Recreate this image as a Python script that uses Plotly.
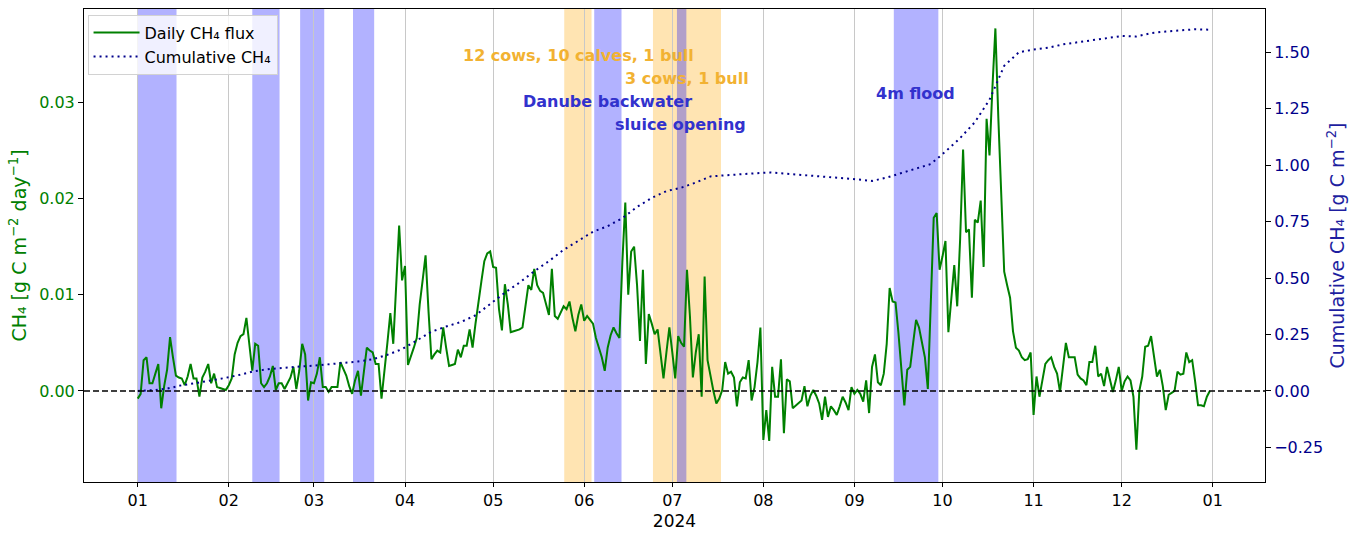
import plotly.graph_objects as go
import pandas as pd

# ---------------- data ----------------
flux_jan = [-0.0008, -0.0003, 0.0032, 0.0035, 0.0008, 0.0008, 0.0018, 0.0028, -0.0018, 0.0005,
            0.0022, 0.0056, 0.0035, 0.0016, 0.0014, 0.0013, 0.0006, 0.0015, 0.0028, 0.0013,
            0.0013, -0.0006, 0.0014, 0.0020, 0.0028, 0.0008, 0.0018, 0.0004, 0.0003, 0.0002, 0.0001]
flux_feb = [0.0006, 0.0013, 0.0038, 0.0050, 0.0057, 0.0059, 0.0076, 0.0049, 0.0021, 0.0049,
            0.0047, 0.0008, 0.0004, 0.0008, 0.0015, 0.0026, 0.0001, 0.0008, 0.0008, 0.0002,
            0.0008, 0.0014, 0.0025, 0.0002, 0.0021, 0.0049, 0.0038, -0.0010, 0.0009]
flux_mar = [0.0008, 0.0018, 0.0035, 0.0004, 0.0004, -0.0001, 0.0004, 0.0004, 0.0004, 0.0030,
            0.0022, 0.0016, 0.0005, -0.0003, 0.0011, 0.0021, -0.0005, 0.0021, 0.0045, 0.0042,
            0.0040, 0.0028, 0.0028, -0.0008, 0.0018, 0.0050, 0.0081, 0.0049, 0.0110, 0.0172, 0.0115]
flux_apr = [0.0130, 0.0027, 0.0035, 0.0045, 0.0055, 0.0090, 0.0115, 0.0141, 0.0083, 0.0033,
            0.0038, 0.0042, 0.0040, 0.0066, 0.0045, 0.0026, 0.0027, 0.0028, 0.0043, 0.0035,
            0.0047, 0.0047, 0.0064, 0.0045, 0.0070, 0.0095, 0.0114, 0.0135, 0.0143, 0.0145]
flux_may = [0.0129, 0.0128, 0.0085, 0.0063, 0.0111, 0.0090, 0.0061, 0.0062, 0.0063, 0.0064,
            0.0066, 0.0090, 0.0110, 0.0105, 0.0127, 0.0110, 0.0104, 0.0102, 0.0090, 0.0079,
            0.0127, 0.0078, 0.0075, 0.0082, 0.0088, 0.0085, 0.0093, 0.0076, 0.0062, 0.0079, 0.0090]
flux_jun = [0.0073, 0.0078, 0.0074, 0.0070, 0.0055, 0.0045, 0.0035, 0.0021, 0.0045, 0.0058,
            0.0066, 0.0060, 0.0055, 0.0134, 0.0196, 0.0100, 0.0145, 0.0150, 0.0110, 0.0052,
            0.0126, 0.0028, 0.0080, 0.0070, 0.0059, 0.0064, 0.0035, 0.0013, 0.0040, 0.0066]
flux_jul = [0.0040, 0.0013, 0.0057, 0.0050, 0.0046, 0.0126, 0.0078, 0.0014, 0.0040, 0.0059,
            -0.0006, 0.0119, 0.0032, 0.0015, 0.0000, -0.0013, -0.0008, 0.0001, 0.0030, 0.0018,
            0.0020, 0.0014, -0.0016, 0.0009, 0.0014, 0.0013, 0.0032, -0.0010, 0.0004, 0.0030, 0.0066]
flux_aug = [-0.0051, -0.0020, -0.0052, 0.0025, -0.0006, -0.0006, 0.0033, -0.0044, 0.0012, 0.0010,
            -0.0018, -0.0015, -0.0012, -0.0010, 0.0005, -0.0016, -0.0005, 0.0001, -0.0005, -0.0013,
            -0.0030, -0.0006, -0.0027, -0.0016, -0.0020, -0.0025, -0.0016, -0.0006, -0.0012, -0.0020, 0.0004]
flux_sep = [-0.0003, 0.0001, -0.0003, -0.0011, 0.0011, -0.0023, 0.0025, 0.0038, 0.0009, 0.0006,
            0.0018, 0.0049, 0.0107, 0.0093, 0.0092, 0.0060, 0.0020, -0.0015, 0.0022, 0.0025,
            0.0050, 0.0074, 0.0066, 0.0050, 0.0035, 0.0002, 0.0103, 0.0180, 0.0185, 0.0126]
flux_oct = [0.0140, 0.0156, 0.0061, 0.0100, 0.0131, 0.0088, 0.0158, 0.0251, 0.0165, 0.0168,
            0.0097, 0.0178, 0.0175, 0.0198, 0.0129, 0.0283, 0.0245, 0.0316, 0.0377, 0.0284,
            0.0213, 0.0124, 0.0110, 0.0097, 0.0062, 0.0045, 0.0042, 0.0035, 0.0032, 0.0033, 0.0040]
flux_nov = [-0.0025, 0.0015, -0.0006, 0.0011, 0.0028, 0.0032, 0.0035, 0.0025, 0.0018, -0.0001,
            0.0025, 0.0050, 0.0035, 0.0035, 0.0035, 0.0017, 0.0013, 0.0011, 0.0006, 0.0030,
            0.0030, 0.0047, 0.0015, 0.0018, 0.0005, 0.0025, 0.0013, -0.0001, 0.0011, 0.0025]
flux_dec = [0.0000, 0.0010, 0.0015, 0.0011, -0.0006, -0.0061, 0.0000, 0.0015, 0.0046, 0.0047,
            0.0057, 0.0035, 0.0015, 0.0022, 0.0005, -0.0020, -0.0004, -0.0002, 0.0000, 0.0020,
            0.0017, 0.0018, 0.0040, 0.0030, 0.0032, 0.0010, -0.0015, -0.0015, -0.0016, -0.0006, 0.0000]

month_starts = ["2024-01-01", "2024-02-01", "2024-03-01", "2024-04-01", "2024-05-01", "2024-06-01",
                "2024-07-01", "2024-08-01", "2024-09-01", "2024-10-01", "2024-11-01", "2024-12-01"]
monthly_flux = [flux_jan, flux_feb, flux_mar, flux_apr, flux_may, flux_jun,
                flux_jul, flux_aug, flux_sep, flux_oct, flux_nov, flux_dec]

# cumulative CH4 read every 5 days from 2024-01-01
cum_start = "2024-01-01"
cum_values = [0.000, 0.003, 0.010, 0.025, 0.035, 0.045, 0.058, 0.072, 0.088, 0.097,
              0.104, 0.108, 0.112, 0.118, 0.125, 0.130, 0.140, 0.160, 0.185, 0.225,
              0.262, 0.285, 0.305, 0.335, 0.385, 0.435, 0.480, 0.530, 0.575, 0.625,
              0.665, 0.705, 0.730, 0.765, 0.815, 0.855, 0.885, 0.900, 0.923, 0.950,
              0.955, 0.960, 0.965, 0.968, 0.963, 0.958, 0.955, 0.950, 0.945, 0.937,
              0.930, 0.945, 0.965, 0.985, 1.005, 1.060, 1.120, 1.190, 1.290, 1.440,
              1.500, 1.512, 1.520, 1.535, 1.545, 1.555, 1.565, 1.572, 1.570, 1.585,
              1.592, 1.597, 1.602, 1.600]

blue_spans = [("2024-01-01", "2024-01-14 05:00"), ("2024-02-09", "2024-02-18 07:00"),
              ("2024-02-25 07:00", "2024-03-04 12:00"), ("2024-03-14 07:00", "2024-03-21 12:00"),
              ("2024-06-04 10:00", "2024-06-13 17:00"), ("2024-07-02 14:00", "2024-07-05 19:00"),
              ("2024-09-14 10:00", "2024-09-29 14:00")]
orange_spans = [("2024-05-25 05:00", "2024-06-03 12:00"), ("2024-06-24 10:00", "2024-07-17 14:00")]

events_orange = [("12 cows, 10 calves, 1 bull", "2024-05-30 01:00", 0.9015),
                 ("3 cows, 1 bull", "2024-07-05 22:00", 0.8532)]
events_blue = [("Danube backwater", "2024-06-08 19:00", 0.805),
               ("sluice opening", "2024-07-03 17:00", 0.7568),
               ("4m flood", "2024-09-21 19:00", 0.8224)]

left_ticks = [0.0, 0.01, 0.02, 0.03]
left_ticktext = ["0.00", "0.01", "0.02", "0.03"]
right_ticks = [-0.25, 0.0, 0.25, 0.5, 0.75, 1.0, 1.25, 1.5]
right_ticktext = ["\u22120.25", "0.00", "0.25", "0.50", "0.75", "1.00", "1.25", "1.50"]

# ---------------- build ----------------
dates, flux = [], []
for start, vals in zip(month_starts, monthly_flux):
    dates += list(pd.date_range(start, periods=len(vals), freq="D"))
    flux += vals
cum_dates = list(pd.date_range(cum_start, periods=len(cum_values), freq="5D"))

FONT = "DejaVu Sans"
GREEN = "rgb(0,128,0)"
NAVY = "rgb(0,0,139)"

fig = go.Figure()
fig.add_trace(go.Scatter(x=dates, y=flux, mode="lines", name="Daily CH\u2084 flux",
                         line=dict(color=GREEN, width=2), yaxis="y"))
fig.add_trace(go.Scatter(x=cum_dates, y=cum_values, mode="lines", name="Cumulative CH\u2084",
                         line=dict(color=NAVY, width=2, dash="2px,4px"), yaxis="y2"))

shapes = []
for a, b in orange_spans:
    shapes.append(dict(type="rect", xref="x", yref="paper", x0=a, x1=b, y0=0, y1=1,
                       fillcolor="rgba(255,165,0,0.3)", line=dict(width=0), layer="below"))
for a, b in blue_spans:
    shapes.append(dict(type="rect", xref="x", yref="paper", x0=a, x1=b, y0=0, y1=1,
                       fillcolor="rgba(0,0,255,0.3)", line=dict(width=0), layer="below"))
shapes.append(dict(type="line", xref="paper", yref="y", x0=0, x1=1, y0=0, y1=0,
                   line=dict(color="black", width=1.5, dash="6px,3px")))

annotations = []
for txt, xd, yp in events_orange:
    annotations.append(dict(text="<b>%s</b>" % txt, x=xd, y=yp, xref="x", yref="paper",
                            showarrow=False, xanchor="center", yanchor="middle",
                            font=dict(family=FONT, size=16, color="rgb(242,178,50)")))
for txt, xd, yp in events_blue:
    annotations.append(dict(text="<b>%s</b>" % txt, x=xd, y=yp, xref="x", yref="paper",
                            showarrow=False, xanchor="center", yanchor="middle",
                            font=dict(family=FONT, size=16, color="rgb(50,50,205)")))

fig.update_layout(
    width=1365, height=535,
    margin=dict(l=84, r=100, t=8, b=49),
    paper_bgcolor="white", plot_bgcolor="white",
    font=dict(family=FONT, size=16, color="black"),
    shapes=shapes, annotations=annotations,
    showlegend=True,
    legend=dict(x=0.003, y=0.988, xanchor="left", yanchor="top", itemwidth=46,
                bgcolor="rgba(255,255,255,0.8)", bordercolor="rgb(210,210,210)", borderwidth=1,
                font=dict(family=FONT, size=16, color="black"), tracegroupgap=0),
    xaxis=dict(type="date", range=["2023-12-13 17:00", "2025-01-18 19:00"],
               tick0="2024-01-01", dtick="M1", tickformat="%m",
               showgrid=True, gridcolor="rgb(200,200,200)", gridwidth=1,
               showline=True, linecolor="black", linewidth=1, mirror=True,
               ticks="outside", ticklen=4, tickcolor="black",
               tickfont=dict(family=FONT, size=16, color="black"),
               title=dict(text="2024", font=dict(family=FONT, size=17, color="black"), standoff=5),
               zeroline=False),
    yaxis=dict(range=[-0.00947, 0.03972], tickvals=left_ticks, ticktext=left_ticktext,
               showgrid=False, zeroline=False, showline=True, linecolor="black", linewidth=1,
               ticks="outside", ticklen=5, tickcolor="black",
               tickfont=dict(family=FONT, size=16, color=GREEN),
               title=dict(text="CH\u2084 [g C m<sup>\u22122</sup> day<sup>\u22121</sup>]",
                          font=dict(family=FONT, size=19, color=GREEN), standoff=7)),
    yaxis2=dict(range=[-0.4035, 1.6917], tickvals=right_ticks, ticktext=right_ticktext,
                overlaying="y", side="right", anchor="x",
                showgrid=False, zeroline=False, showline=True, linecolor="black", linewidth=1,
                ticks="outside", ticklen=5, tickcolor="black",
                tickfont=dict(family=FONT, size=16, color=NAVY),
                title=dict(text="Cumulative CH\u2084 [g C m<sup>\u22122</sup>]",
                           font=dict(family=FONT, size=19, color="rgb(30,30,160)"), standoff=8)),
)

fig.write_html("out.html")
